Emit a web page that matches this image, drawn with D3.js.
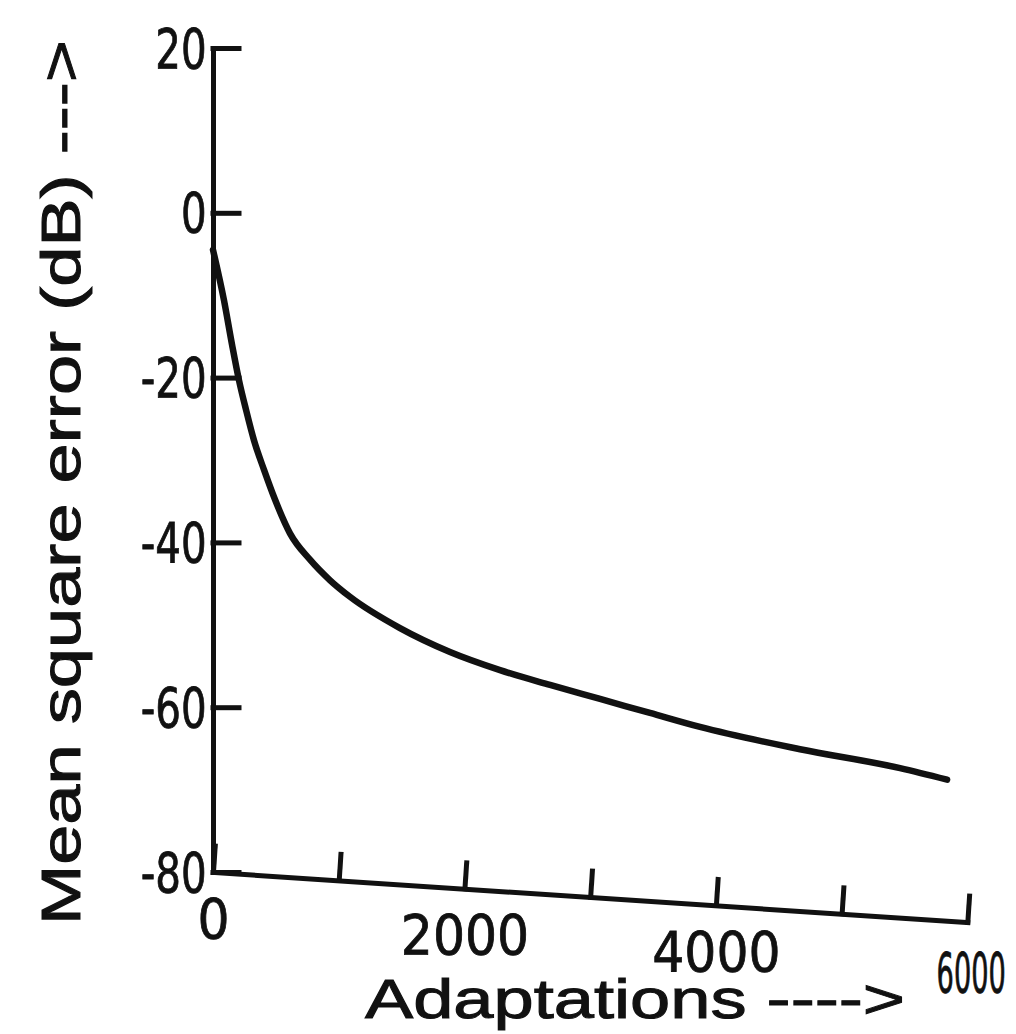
<!DOCTYPE html>
<meta charset="utf-8">
<style>
body {
    margin: 0;
    background: #fff;
}

.chart .curve {
    fill: none;
    stroke: #111;
    stroke-width: 6.5;
    stroke-linecap: round;
    stroke-linejoin: round;
}

.chart .axis path,
.chart .axis line {
    stroke: #111;
    stroke-width: 5;
    stroke-linecap: square;
}

.chart .axis text {
    fill: #111;
    font-family: "Liberation Sans Narrow", "DejaVu Sans Condensed", "Liberation Sans", sans-serif;
    font-size: 56px;
    stroke: #111;
    stroke-width: 0.8;
}

.chart .title {
    fill: #111;
    font-family: "Liberation Sans", "DejaVu Sans", sans-serif;
    font-size: 56px;
    stroke: #111;
    stroke-width: 1;
}
</style>
<body>

<svg class="chart js-chart"></svg>

<script src="https://cdn.jsdelivr.net/npm/d3@7"></script>
<script type="text/javascript">
"use strict";

// values
var adaptations = [0, 87, 151, 206, 262, 325, 405, 492, 611, 770, 929, 1087,
    1484, 1881, 2278, 2675, 3072, 3468, 3865, 4659, 5453, 5826];
var mseDb = [-4.5, -10.6, -16.0, -20.3, -23.9, -27.6, -31.2, -34.8, -38.9, -42.1, -44.6, -46.6,
    -50.4, -53.3, -55.5, -57.3, -59.0, -60.7, -62.4, -65.1, -67.4, -68.8];

var mseTicks = [20, 0, -20, -40, -60, -80];
var mseTickLabels = ["20", "0", "-20", "-40", "-60", "-80"];
var adaptTicks = [0, 1000, 2000, 3000, 4000, 5000, 6000];
var adaptTickLabels = ["0", "", "2000", "", "4000", "", "6000"];

var xTitle = "Adaptations ---->";
var yTitle = "Mean  square error (dB) --->";

var width = 1016,
    height = 1034,
    originX = 213,
    originY = 872,
    xAxisTilt = 3.8; // the printed x axis runs slightly downhill

var svg = d3.select(".js-chart")
    .attr("width", width)
    .attr("height", height);

var x = d3.scaleLinear().domain([0, 6000]).range([originX, 969]);
var y = d3.scaleLinear().domain([-80, 20]).range([originY, 48]);

var points = adaptations.map(function(a, i) { return [a, mseDb[i]]; });

var line = d3.line()
    .x(function(d) { return x(d[0]); })
    .y(function(d) { return y(d[1]); })
    .curve(d3.curveMonotoneX);

// y axis
svg.append("g")
    .attr("class", "axis y-axis")
    .attr("transform", "translate(" + originX + ",0)")
    .call(d3.axisLeft(y)
        .tickValues(mseTicks)
        .tickFormat(function(d, i) { return mseTickLabels[i]; })
        .tickSizeInner(-26)
        .tickSizeOuter(0)
        .tickPadding(8))
    .call(function(g) {
        g.selectAll("text")
            .attr("dy", "0.34em")
            .attr("transform", "scale(0.8,1)");
    });

// x axis, tilted like the original
var xAxisG = svg.append("g")
    .attr("class", "axis x-axis")
    .attr("transform", "translate(" + originX + "," + originY + ") rotate(" + xAxisTilt + ") translate(" + (-originX) + ",0)")
    .call(d3.axisBottom(x)
        .tickValues(adaptTicks)
        .tickFormat(function(d, i) { return adaptTickLabels[i]; })
        .tickSizeInner(-26)
        .tickSizeOuter(0)
        .tickPadding(26));

xAxisG.selectAll(".tick text")
    .attr("transform", "rotate(" + (-xAxisTilt) + ")");

// the last label is squeezed against the page edge in the scan
var squeeze = 0.54;
xAxisG.selectAll(".tick text")
    .filter(function(d) { return d === 6000; })
    .attr("text-anchor", "end")
    .attr("x", 38 / squeeze)
    .attr("y", 30)
    .attr("transform", "rotate(" + (-xAxisTilt) + ") scale(" + squeeze + ",1)");

svg.selectAll(".axis").attr("font-family", null).attr("font-size", null);

// curve
svg.append("path")
    .attr("class", "curve")
    .datum(points)
    .attr("d", line);

// titles
svg.append("text")
    .attr("class", "title")
    .attr("x", 365)
    .attr("y", 1018)
    .attr("textLength", 540)
    .attr("lengthAdjust", "spacingAndGlyphs")
    .text(xTitle);

svg.append("text")
    .attr("class", "title")
    .attr("transform", "translate(80,925) rotate(-90)")
    .attr("textLength", 885)
    .attr("lengthAdjust", "spacingAndGlyphs")
    .text(yTitle);

</script>
</body>
